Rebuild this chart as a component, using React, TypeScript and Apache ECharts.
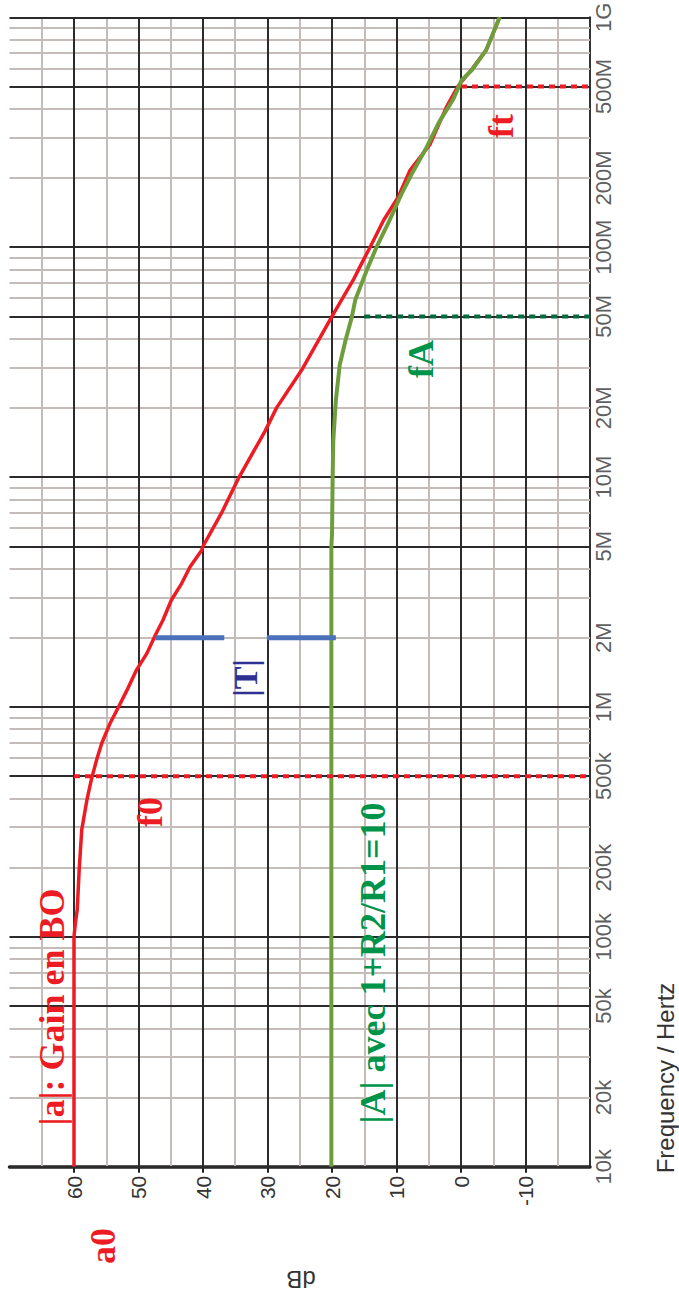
import React, { useEffect, useRef } from 'react';
import * as echarts from 'echarts';

// Axis ranges
const FREQ_MIN = 1e4;
const FREQ_MAX = 1e9;
const DB_MIN = -20;
const DB_MAX = 70;

// Open-loop gain |a| (dB) versus frequency (Hz)
const gainFreq = [
  1e4, 3e4, 1e5, 1.14e5, 1.31e5, 1.95e5, 2.92e5, 3.94e5, 4.84e5, 5.88e5, 6.95e5, 8.49e5,
  1.0e6, 1.18e6, 1.45e6, 1.71e6, 2.05e6, 2.39e6, 2.92e6, 3.45e6, 4.07e6, 4.81e6, 5.0e6,
  7.0e6, 1.0e7, 1.58e7, 2.0e7, 2.92e7, 5.0e7, 7.2e7, 8.5e7, 1.0e8, 1.31e8, 1.66e8, 2.16e8,
  2.8e8, 4.1e8, 5.0e8, 5.9e8, 7.2e8, 1.0e9,
];
const gainDb = [
  60, 60, 60, 59.8, 59.5, 59.2, 58.8, 58.0, 57.3, 56.5, 55.7, 54.4,
  53.1, 51.8, 50.3, 48.7, 47.4, 46.2, 44.9, 43.3, 42.0, 40.2, 40.0,
  37.1, 34.4, 30.4, 28.6, 24.7, 20.0, 16.7, 15.4, 14.1, 12.0, 9.7, 7.9,
  4.8, 2.2, 0.5, -1.6, -3.9, -6.0,
];

// Closed-loop gain |A| (dB) with 1 + R2/R1 = 10
const closedFreq = [
  1e4, 1e5, 1e6, 5.0e6, 5.6e6, 1.0e7, 1.44e7, 2.16e7, 3.08e7, 3.94e7, 5.0e7, 5.89e7,
  6.96e7, 7.95e7, 1.0e8, 1.27e8, 1.71e8, 2.09e8, 2.73e8, 3.5e8, 4.4e8, 5.33e8, 5.9e8,
  7.2e8, 1.0e9,
];
const closedDb = [
  20.1, 20.1, 20.1, 20.1, 20.0, 19.9, 19.8, 19.4, 18.8, 17.9, 16.9, 16.4,
  15.4, 14.6, 13.1, 11.3, 9.2, 7.6, 5.3, 3.4, 1.2, -0.1, -1.7,
  -3.9, -6.0,
];

// Frequency tick labels on the right-hand axis
const tickFreqs = [1e4, 2e4, 5e4, 1e5, 2e5, 5e5, 1e6, 2e6, 5e6, 1e7, 2e7, 5e7, 1e8, 2e8, 5e8, 1e9];
const tickLabels = ['10k', '20k', '50k', '100k', '200k', '500k', '1M', '2M', '5M', '10M', '20M', '50M', '100M', '200M', '500M', '1G'];

// Log-paper grid
const majorFreqLines = [1e4, 5e4, 1e5, 5e5, 1e6, 5e6, 1e7, 5e7, 1e8, 5e8, 1e9];
const minorFreqLines = [
  2e4, 3e4, 4e4, 6e4, 7e4, 8e4, 9e4,
  2e5, 3e5, 4e5, 6e5, 7e5, 8e5, 9e5,
  2e6, 3e6, 4e6, 6e6, 7e6, 8e6, 9e6,
  2e7, 3e7, 4e7, 6e7, 7e7, 8e7, 9e7,
  2e8, 3e8, 4e8, 6e8, 7e8, 8e8, 9e8,
];
const majorDbLines = [60, 50, 40, 30, 20, 10, 0, -10];
const minorDbLines = [65, 55, 45, 35, 25, 15, 5, -5, -15];

// Characteristic frequencies and their marker spans (dB)
const f0 = 5e5;
const f0Span = [60, -20];
const fA = 5e7;
const fASpan = [15, -21.7];
const ft = 5e8;
const ftSpan = [0, -20];

// Loop gain |T| shown at 2 MHz
const tFreq = 2e6;
const tUpper = [47.4, 36.7];
const tLower = [30.1, 19.4];

const RED = '#ed1c24';
const GREEN_LINE = '#6e9e3c';
const GREEN_TEXT = '#00944a';
const GREEN_DOT = '#006b3c';
const NAVY = '#2e3192';
const BLUE = '#4a71b9';
const DARK = '#2b2b2b';
const GREY = '#c4bcb9';
const SANS = '"Liberation Sans", Arial, sans-serif';
const SERIF = '"Liberation Serif", "Times New Roman", serif';

function gridLines(color: string, z: number, freqs: number[], dbs: number[]) {
  return {
    type: 'line',
    data: [],
    silent: true,
    z,
    markLine: {
      silent: true,
      z,
      symbol: ['none', 'none'],
      animation: false,
      label: { show: false },
      emphasis: { disabled: true },
      lineStyle: { color, width: 2, type: 'solid' },
      data: [
        ...freqs.map((v) => ({ yAxis: v })),
        ...dbs.map((v) => ({ xAxis: v })),
      ],
    },
  };
}

function hLine(freq: number, span: number[], color: string, width: number, dashed: boolean, z: number) {
  return {
    type: 'line',
    data: span.map((d) => [d, freq]),
    symbol: 'none',
    silent: true,
    clip: false,
    z,
    lineStyle: { color, width, type: dashed ? [6, 5] : 'solid', cap: 'butt' },
  };
}

function label(text: string, x: number, y: number, color: string, size: number, rotation: number, font = SERIF, weight = 'bold') {
  return {
    type: 'text',
    x,
    y,
    rotation,
    z: 10,
    silent: true,
    style: {
      text,
      fill: color,
      fontSize: size,
      fontWeight: weight,
      fontFamily: font,
      align: 'center',
      verticalAlign: 'middle',
    },
  };
}

export default function App() {
  const ref = useRef<HTMLDivElement>(null);

  useEffect(() => {
    const chart = echarts.init(ref.current!, undefined, { renderer: 'svg' });
    const up = Math.PI / 2;

    chart.setOption({
      animation: false,
      backgroundColor: '#ffffff',
      grid: { left: 9.5, right: 89, top: 17.3, bottom: 137.3, containLabel: false, outerBoundsMode: 'none' },
      xAxis: {
        type: 'value',
        min: DB_MIN,
        max: DB_MAX,
        interval: 10,
        inverse: true,
        position: 'bottom',
        axisLine: { show: true, onZero: false, lineStyle: { color: '#231f20', width: 3.5 } },
        axisTick: { show: true, length: 6, lineStyle: { color: '#231f20', width: 2 } },
        axisLabel: {
          rotate: 90,
          fontSize: 21,
          color: '#333333',
          fontFamily: SANS,
          margin: 9,
          padding: [6, 0, 0, 0],
          showMinLabel: false,
          showMaxLabel: false,
        },
        splitLine: { show: false },
      },
      yAxis: {
        type: 'log',
        logBase: 10,
        min: FREQ_MIN,
        max: FREQ_MAX,
        position: 'right',
        axisLine: { show: true, onZero: false, lineStyle: { color: '#333333', width: 2 } },
        axisTick: { show: false },
        axisLabel: { show: false },
        splitLine: { show: false },
      },
      series: [
        gridLines(GREY, 1, minorFreqLines, minorDbLines),
        gridLines(DARK, 2, majorFreqLines, majorDbLines),
        {
          type: 'line',
          data: gainDb.map((d, i) => [d, gainFreq[i]]),
          symbol: 'none',
          silent: true,
          z: 3,
          lineStyle: { color: RED, width: 3.5 },
        },
        {
          type: 'line',
          data: closedDb.map((d, i) => [d, closedFreq[i]]),
          symbol: 'none',
          silent: true,
          z: 4,
          lineStyle: { color: GREEN_LINE, width: 4 },
        },
        hLine(f0, f0Span, RED, 4, true, 5),
        hLine(ft, ftSpan, RED, 4, true, 5),
        hLine(fA, fASpan, GREEN_DOT, 4, true, 5),
        hLine(tFreq, tUpper, BLUE, 5, false, 5),
        hLine(tFreq, tLower, BLUE, 5, false, 5),
        {
          type: 'scatter',
          data: tickFreqs.map((f) => [DB_MIN, f]),
          symbolSize: 1,
          itemStyle: { color: 'rgba(0,0,0,0)' },
          clip: false,
          silent: true,
          z: 6,
          label: {
            show: true,
            formatter: (p: any) => tickLabels[p.dataIndex],
            position: [14.3, 0.5],
            rotate: 90,
            align: 'center',
            verticalAlign: 'middle',
            fontSize: 22,
            color: '#333333',
            fontFamily: SANS,
          },
        },
      ],
      graphic: [
        label('|a|: Gain en BO', 52, 1007, RED, 36, up),
        label('a0', 103, 1246, RED, 36, up),
        label('f0', 150, 812, RED, 36, up),
        label('|T|', 245, 678, NAVY, 34, up),
        label('|A| avec 1+R2/R1=10', 373, 963, GREEN_TEXT, 36, up),
        label('fA', 421, 359, GREEN_TEXT, 36, up),
        label('ft', 501, 126, RED, 36, up),
        label('Frequency / Hertz', 665, 1078, '#333333', 24, up, SANS, 'normal'),
        label('dB', 301, 1279, '#333333', 24, Math.PI, SANS, 'normal'),
      ],
    });

    return () => chart.dispose();
  }, []);

  return (
    <div
      ref={ref}
      style={{ position: 'absolute', left: 0, top: 0, width: 679, height: 1304, background: '#ffffff' }}
    />
  );
}
